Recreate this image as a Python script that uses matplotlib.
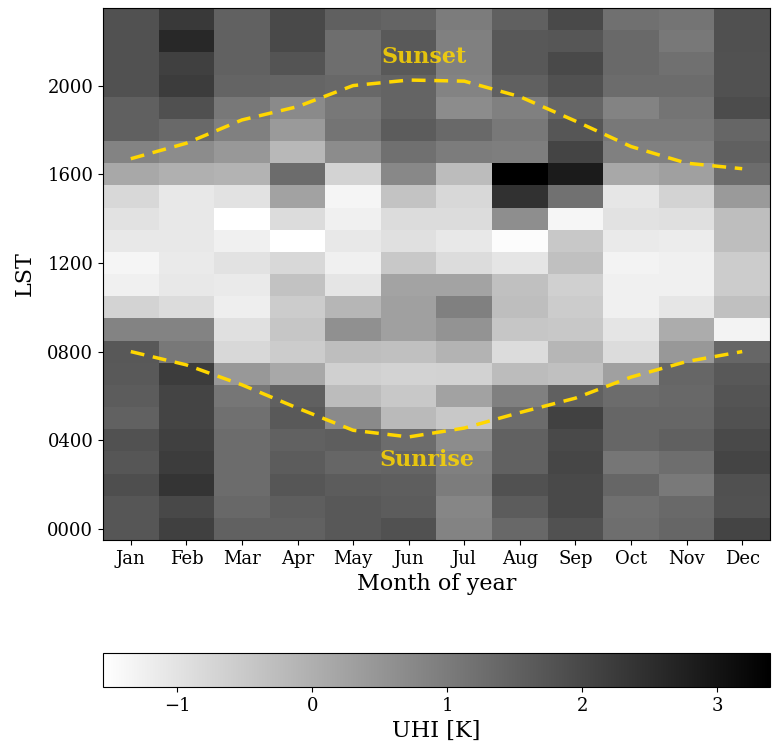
import matplotlib.pyplot as plt
import numpy as np

MONTHS = ["Jan", "Feb", "Mar", "Apr", "May", "Jun",
          "Jul", "Aug", "Sep", "Oct", "Nov", "Dec"]
HOUR_TICKS = [0, 4, 8, 12, 16, 20]
HOUR_LABELS = ["0000", "0400", "0800", "1200", "1600", "2000"]

# mean urban heat island [K] by local solar hour (rows 0..23) and month
UHI = np.array([
    [1.73, 2.15, 1.49, 1.49, 1.69, 1.80, 0.85, 1.38, 1.80, 1.26, 1.42, 2.07],  # 00
    [1.73, 1.99, 1.38, 1.57, 1.69, 1.61, 0.80, 1.61, 1.96, 1.22, 1.34, 1.80],  # 01
    [1.88, 2.38, 1.30, 1.73, 1.61, 1.57, 0.99, 1.80, 1.96, 1.42, 1.03, 1.84],  # 02
    [1.73, 2.23, 1.30, 1.61, 1.42, 1.46, 0.91, 1.49, 2.03, 1.11, 1.26, 2.07],  # 03
    [1.80, 2.15, 1.30, 1.49, 1.57, 1.30, 0.68, 1.49, 1.96, 1.42, 1.53, 1.96],  # 04
    [1.49, 2.07, 1.22, 1.65, 0.72, -0.21, -0.48, 1.30, 2.11, 1.42, 1.42, 1.80],  # 05
    [1.61, 2.07, 1.11, 1.53, -0.25, -0.48, 0.25, 0.91, 1.53, 1.30, 1.38, 1.76],  # 06
    [1.65, 2.23, 0.45, 0.14, -0.64, -0.72, -0.68, -0.25, -0.33, 0.29, 1.42, 1.69],  # 07
    [1.69, 1.07, -0.79, -0.56, -0.29, -0.33, -0.09, -0.87, -0.13, -0.87, 0.45, 1.42],  # 08
    [0.83, 0.83, -0.95, -0.44, 0.60, 0.29, 0.52, -0.44, -0.48, -1.03, 0.06, -1.30],  # 09
    [-0.72, -0.87, -1.22, -0.56, -0.13, 0.29, 0.91, -0.29, -0.56, -1.26, -1.06, -0.33],  # 10
    [-1.26, -1.10, -1.14, -0.37, -1.03, 0.21, 0.21, -0.33, -0.64, -1.26, -1.26, -0.56],  # 11
    [-1.34, -1.14, -0.99, -0.79, -1.26, -0.48, -0.87, -1.03, -0.33, -1.30, -1.26, -0.56],  # 12
    [-1.10, -1.10, -1.26, -1.55, -1.10, -0.95, -1.10, -1.49, -0.48, -1.14, -1.18, -0.29],  # 13
    [-0.99, -1.10, -1.55, -0.87, -1.26, -0.87, -0.87, 0.64, -1.37, -0.99, -0.95, -0.29],  # 14
    [-0.79, -1.10, -0.99, 0.25, -1.34, -0.41, -0.79, 2.42, 1.18, -1.06, -0.72, 0.41],  # 15
    [0.14, -0.02, -0.09, 1.30, -0.72, 0.76, -0.25, 3.39, 2.85, 0.14, 0.29, 1.30],  # 16
    [0.83, 0.68, 0.45, -0.17, 0.68, 1.22, 0.99, 0.95, 2.07, 0.91, 0.91, 1.53],  # 17
    [1.53, 1.34, 0.91, 0.41, 1.14, 1.61, 1.34, 1.07, 1.73, 1.07, 1.07, 1.42],  # 18
    [1.53, 1.84, 1.07, 0.72, 1.07, 1.46, 0.68, 0.91, 1.42, 0.83, 1.14, 1.92],  # 19
    [1.80, 2.23, 1.46, 1.44, 1.38, 1.46, 0.85, 1.53, 1.80, 1.30, 1.30, 1.80],  # 20
    [1.80, 2.15, 1.49, 1.75, 1.26, 1.65, 0.91, 1.69, 1.96, 1.34, 1.22, 1.80],  # 21
    [1.80, 2.58, 1.49, 1.96, 1.26, 1.65, 0.91, 1.69, 1.73, 1.34, 1.07, 1.84],  # 22
    [1.80, 2.27, 1.49, 1.96, 1.53, 1.46, 0.99, 1.53, 1.96, 1.22, 1.14, 1.84],  # 23
])

# local solar time of sunrise / sunset for each month [h]
SUNRISE = [8.0, 7.4, 6.5, 5.45, 4.45, 4.15, 4.55, 5.25, 5.9, 6.85, 7.55, 8.0]
SUNSET = [16.7, 17.4, 18.45, 19.05, 20.0, 20.25, 20.2, 19.5, 18.4, 17.25, 16.5, 16.25]

plt.rcParams.update({
    "font.family": "serif",
    "font.serif": ["DejaVu Serif"],
    "font.size": 13,
})

fig = plt.figure(figsize=(7.72, 7.51), dpi=100)
ax = fig.add_axes([103 / 772, 1 - 540 / 751, 667 / 772, 532 / 751])
cax = fig.add_axes([103 / 772, 1 - 687 / 751, 667 / 772, 34 / 751])

im = ax.imshow(UHI, cmap="gray_r", origin="lower", aspect="auto",
               interpolation="nearest")
months = np.arange(len(MONTHS))
ax.plot(months, SUNSET, color="gold", lw=2.5, ls="--", dashes=(4, 2.5))
ax.plot(months, SUNRISE, color="gold", lw=2.5, ls="--", dashes=(4, 2.5))
ax.text(5.27, 21.3, "Sunset", color="gold", alpha=0.85, fontsize=16,
        fontweight="bold", ha="center", va="center")
ax.text(5.33, 3.1, "Sunrise", color="gold", alpha=0.85, fontsize=16,
        fontweight="bold", ha="center", va="center")

ax.set_xticks(months)
ax.set_xticklabels(MONTHS)
ax.set_yticks(HOUR_TICKS)
ax.set_yticklabels(HOUR_LABELS)
ax.set_xlabel("Month of year", fontsize=16)
ax.set_ylabel("LST", fontsize=16, labelpad=8)

cb = fig.colorbar(im, cax=cax, orientation="horizontal")
cb.set_ticks([-1, 0, 1, 2, 3])
cb.set_label("UHI [K]", fontsize=16)

fig.savefig("out.png", dpi=100)
